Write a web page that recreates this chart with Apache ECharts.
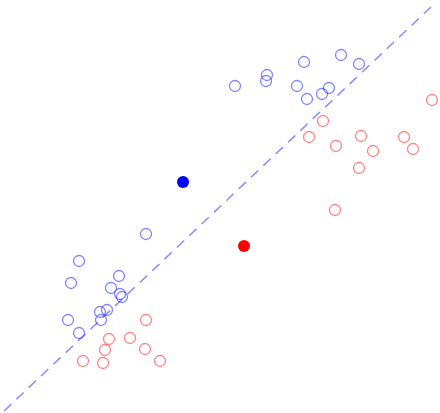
<!DOCTYPE html>
<html>
<head>
<meta charset="utf-8">
<script src="https://cdn.jsdelivr.net/npm/echarts@6/dist/echarts.min.js"></script>
<style>html,body{margin:0;padding:0;background:#fff;}#c{width:440px;height:413px;}</style>
</head>
<body>
<div id="c"></div>
<script>
var bluePoints = [
  [23.5,32.7],[26.7,33.8],[26.6,33.2],[30.4,35.1],[34.1,35.8],[35.9,34.9],
  [29.7,32.7],[32.9,32.5],[32.2,31.9],[30.7,31.4],[14.6,17.9],[7.9,15.2],
  [7.1,13.0],[11.9,13.7],[11.1,12.5],[12.0,11.9],[12.2,11.6],[10.7,10.3],
  [10.0,10.1],[10.1,9.3],[6.8,9.3],[7.9,8.0]
];
var redPoints = [
  [43.2,31.3],[32.3,29.2],[30.9,27.6],[36.1,27.7],[40.4,27.6],[33.6,26.7],
  [37.3,26.2],[41.3,26.4],[35.9,24.5],[33.5,20.3],[14.6,9.3],[10.9,7.4],
  [13.0,7.5],[10.5,6.3],[14.5,6.4],[8.3,5.2],[10.3,5.0],[16.0,5.2]
];
var blueCenter = [[18.3,23.1]];
var redCenter = [[24.4,16.7]];
var boundaryLine = [[0.4,0.2],[43.1,40.6]];

var chart = echarts.init(document.getElementById('c'));
chart.setOption({
  animation: false,
  grid: {left:0,right:0,top:0,bottom:0},
  xAxis: {type:'value',min:0,max:44,show:false},
  yAxis: {type:'value',min:0,max:41.3,show:false},
  series: [
    {type:'line',data:boundaryLine,symbol:'none',z:1,
     lineStyle:{color:'rgba(60,60,255,0.6)',width:1.5,type:[10,7]}},
    {type:'scatter',data:bluePoints,symbol:'circle',symbolSize:11,z:2,
     itemStyle:{opacity:1,color:'rgba(0,0,0,0)',borderColor:'rgba(50,50,255,0.6)',borderWidth:1.3}},
    {type:'scatter',data:redPoints,symbol:'circle',symbolSize:11,z:2,
     itemStyle:{opacity:1,color:'rgba(0,0,0,0)',borderColor:'rgba(255,50,50,0.6)',borderWidth:1.3}},
    {type:'scatter',data:blueCenter,symbol:'circle',symbolSize:12,z:3,
     itemStyle:{opacity:1,color:'#0000ff'}},
    {type:'scatter',data:redCenter,symbol:'circle',symbolSize:12,z:3,
     itemStyle:{opacity:1,color:'#ff0000'}}
  ]
});
</script>
</body>
</html>
